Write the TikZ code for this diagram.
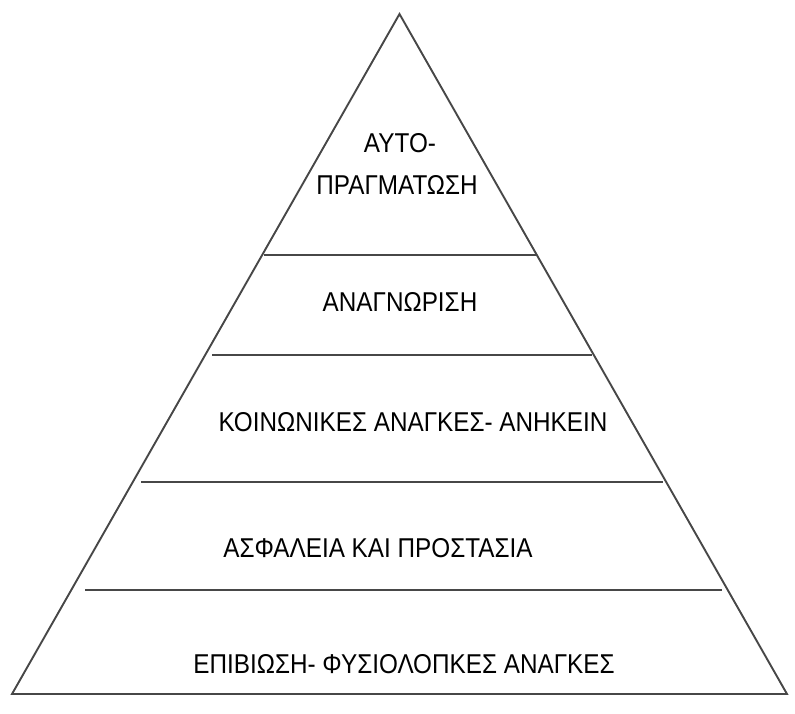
\documentclass[tikz,border=0pt]{standalone}
\usepackage{fontspec}
\setmainfont{Liberation Sans}
\newcommand{\tallText}[1]{\scalebox{1}[1.12]{#1}}
\begin{document}
\begin{tikzpicture}[x=1pt,y=-1pt,
  edge/.style={draw=black!72,line width=1.9pt,line join=miter},
  tier/.style={draw=black!72,line width=1.9pt},
  lbl/.style={font=\fontsize{24.3}{30}\selectfont,inner sep=0pt,anchor=center,align=center}]
\useasboundingbox (0,0) rectangle (795,713);
\coordinate (apex) at (399.5,14);
\coordinate (bl) at (12,694);
\coordinate (br) at (787,694);
\draw[edge] (apex) -- (bl) -- (br) -- cycle;
\coordinate (l1a) at (264,255); \coordinate (l1b) at (537,255);
\coordinate (l2a) at (212,355); \coordinate (l2b) at (592,355);
\coordinate (l3a) at (141,482); \coordinate (l3b) at (663,482);
\coordinate (l4a) at (85,590); \coordinate (l4b) at (722,590);
\draw[tier] (l1a) -- (l1b);
\draw[tier] (l2a) -- (l2b);
\draw[tier] (l3a) -- (l3b);
\draw[tier] (l4a) -- (l4b);
\node[lbl] (t1a) at (400,143) {\tallText{ΑΥΤΟ-}};
\node[lbl] (t1b) at (397,185) {\tallText{ΠΡΑΓΜΑΤΩΣΗ}};
\node[lbl] (t2) at (400,302) {\tallText{ΑΝΑΓΝΩΡΙΣΗ}};
\node[lbl] (t3) at (413,422) {\tallText{ΚΟΙΝΩΝΙΚΕΣ ΑΝΑΓΚΕΣ- ΑΝΗΚΕΙΝ}};
\node[lbl] (t4) at (378,548) {\tallText{ΑΣΦΑΛΕΙΑ ΚΑΙ ΠΡΟΣΤΑΣΙΑ}};
\node[lbl] (t5) at (404,664) {\tallText{ΕΠΙΒΙΩΣΗ- ΦΥΣΙΟΛΟΠΚΕΣ ΑΝΑΓΚΕΣ}};
\end{tikzpicture}
\end{document}
